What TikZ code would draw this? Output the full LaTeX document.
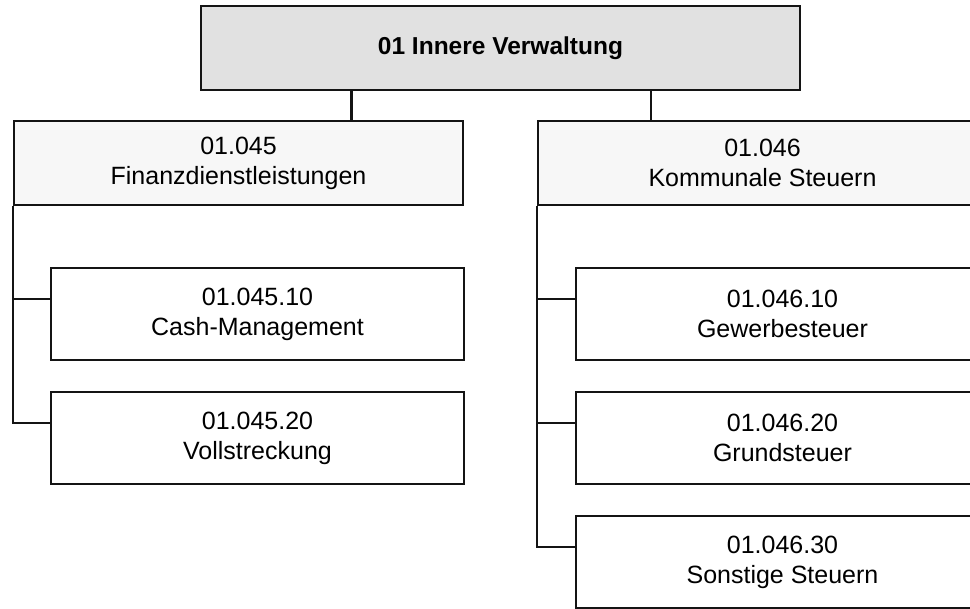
\documentclass[tikz,border=0pt]{standalone}
\usepackage{fontspec}
\setmainfont{Liberation Sans}
\usetikzlibrary{calc}
\definecolor{linec}{HTML}{141414}
\definecolor{topfill}{HTML}{E1E1E1}
\definecolor{midfill}{HTML}{F7F7F7}
\begin{document}
\begin{tikzpicture}[x=1pt,y=1pt,
  box/.style={draw=linec,line width=2.2pt,inner sep=0pt,align=center,
    font=\fontsize{25}{30}\selectfont,text=black},
  topbox/.style={box,fill=topfill,minimum width=599pt,minimum height=84pt,
    font=\fontsize{24.5}{30}\selectfont\bfseries},
  midbox/.style={box,fill=midfill,minimum width=449pt,minimum height=84pt},
  leafbox/.style={box,fill=white,minimum width=413pt,minimum height=92pt},
  conn/.style={draw=linec,line width=2.2pt}]
\useasboundingbox (0,0) rectangle (970,-609);
\clip (0,0) rectangle (970,-609);
\fill[white] (0,0) rectangle (970,-609);
\node[topbox] (top) at (500.5,-48) {01 Innere Verwaltung};
\node[midbox] (fin) at (238.5,-163) {01.045\\Finanzdienstleistungen};
\node[midbox] (kom) at (762.5,-163) {01.046\\Kommunale Steuern};
\node[leafbox] (b1) at (257.5,-314) {01.045.10\\Cash-Management};
\node[leafbox] (b2) at (257.5,-438) {01.045.20\\Vollstreckung};
\node[leafbox] (c1) at (782.5,-314) {01.046.10\\Gewerbesteuer};
\node[leafbox] (c2) at (782.5,-438) {01.046.20\\Grundsteuer};
\node[leafbox] (c3) at (782.5,-562) {01.046.30\\Sonstige Steuern};
\coordinate (tl) at ($(top.south west)!0.252!(top.south east)$);
\coordinate (tr) at ($(top.south west)!0.75!(top.south east)$);
\draw[conn] (tl) -- (tl |- fin.north);
\draw[conn] (tr) -- (tr |- kom.north);
\coordinate (b1in) at ($(b1.west)+(0,15)$);
\coordinate (b2in) at ($(b2.west)+(0,15)$);
\coordinate (c1in) at ($(c1.west)+(0,15)$);
\coordinate (c2in) at ($(c2.west)+(0,15)$);
\coordinate (c3in) at ($(c3.west)+(0,15)$);
\draw[conn] (fin.south west) |- (b2in);
\draw[conn] (fin.south west |- b1in) -- (b1in);
\draw[conn] (kom.south west) |- (c3in);
\draw[conn] (kom.south west |- c1in) -- (c1in);
\draw[conn] (kom.south west |- c2in) -- (c2in);
\end{tikzpicture}
\end{document}
